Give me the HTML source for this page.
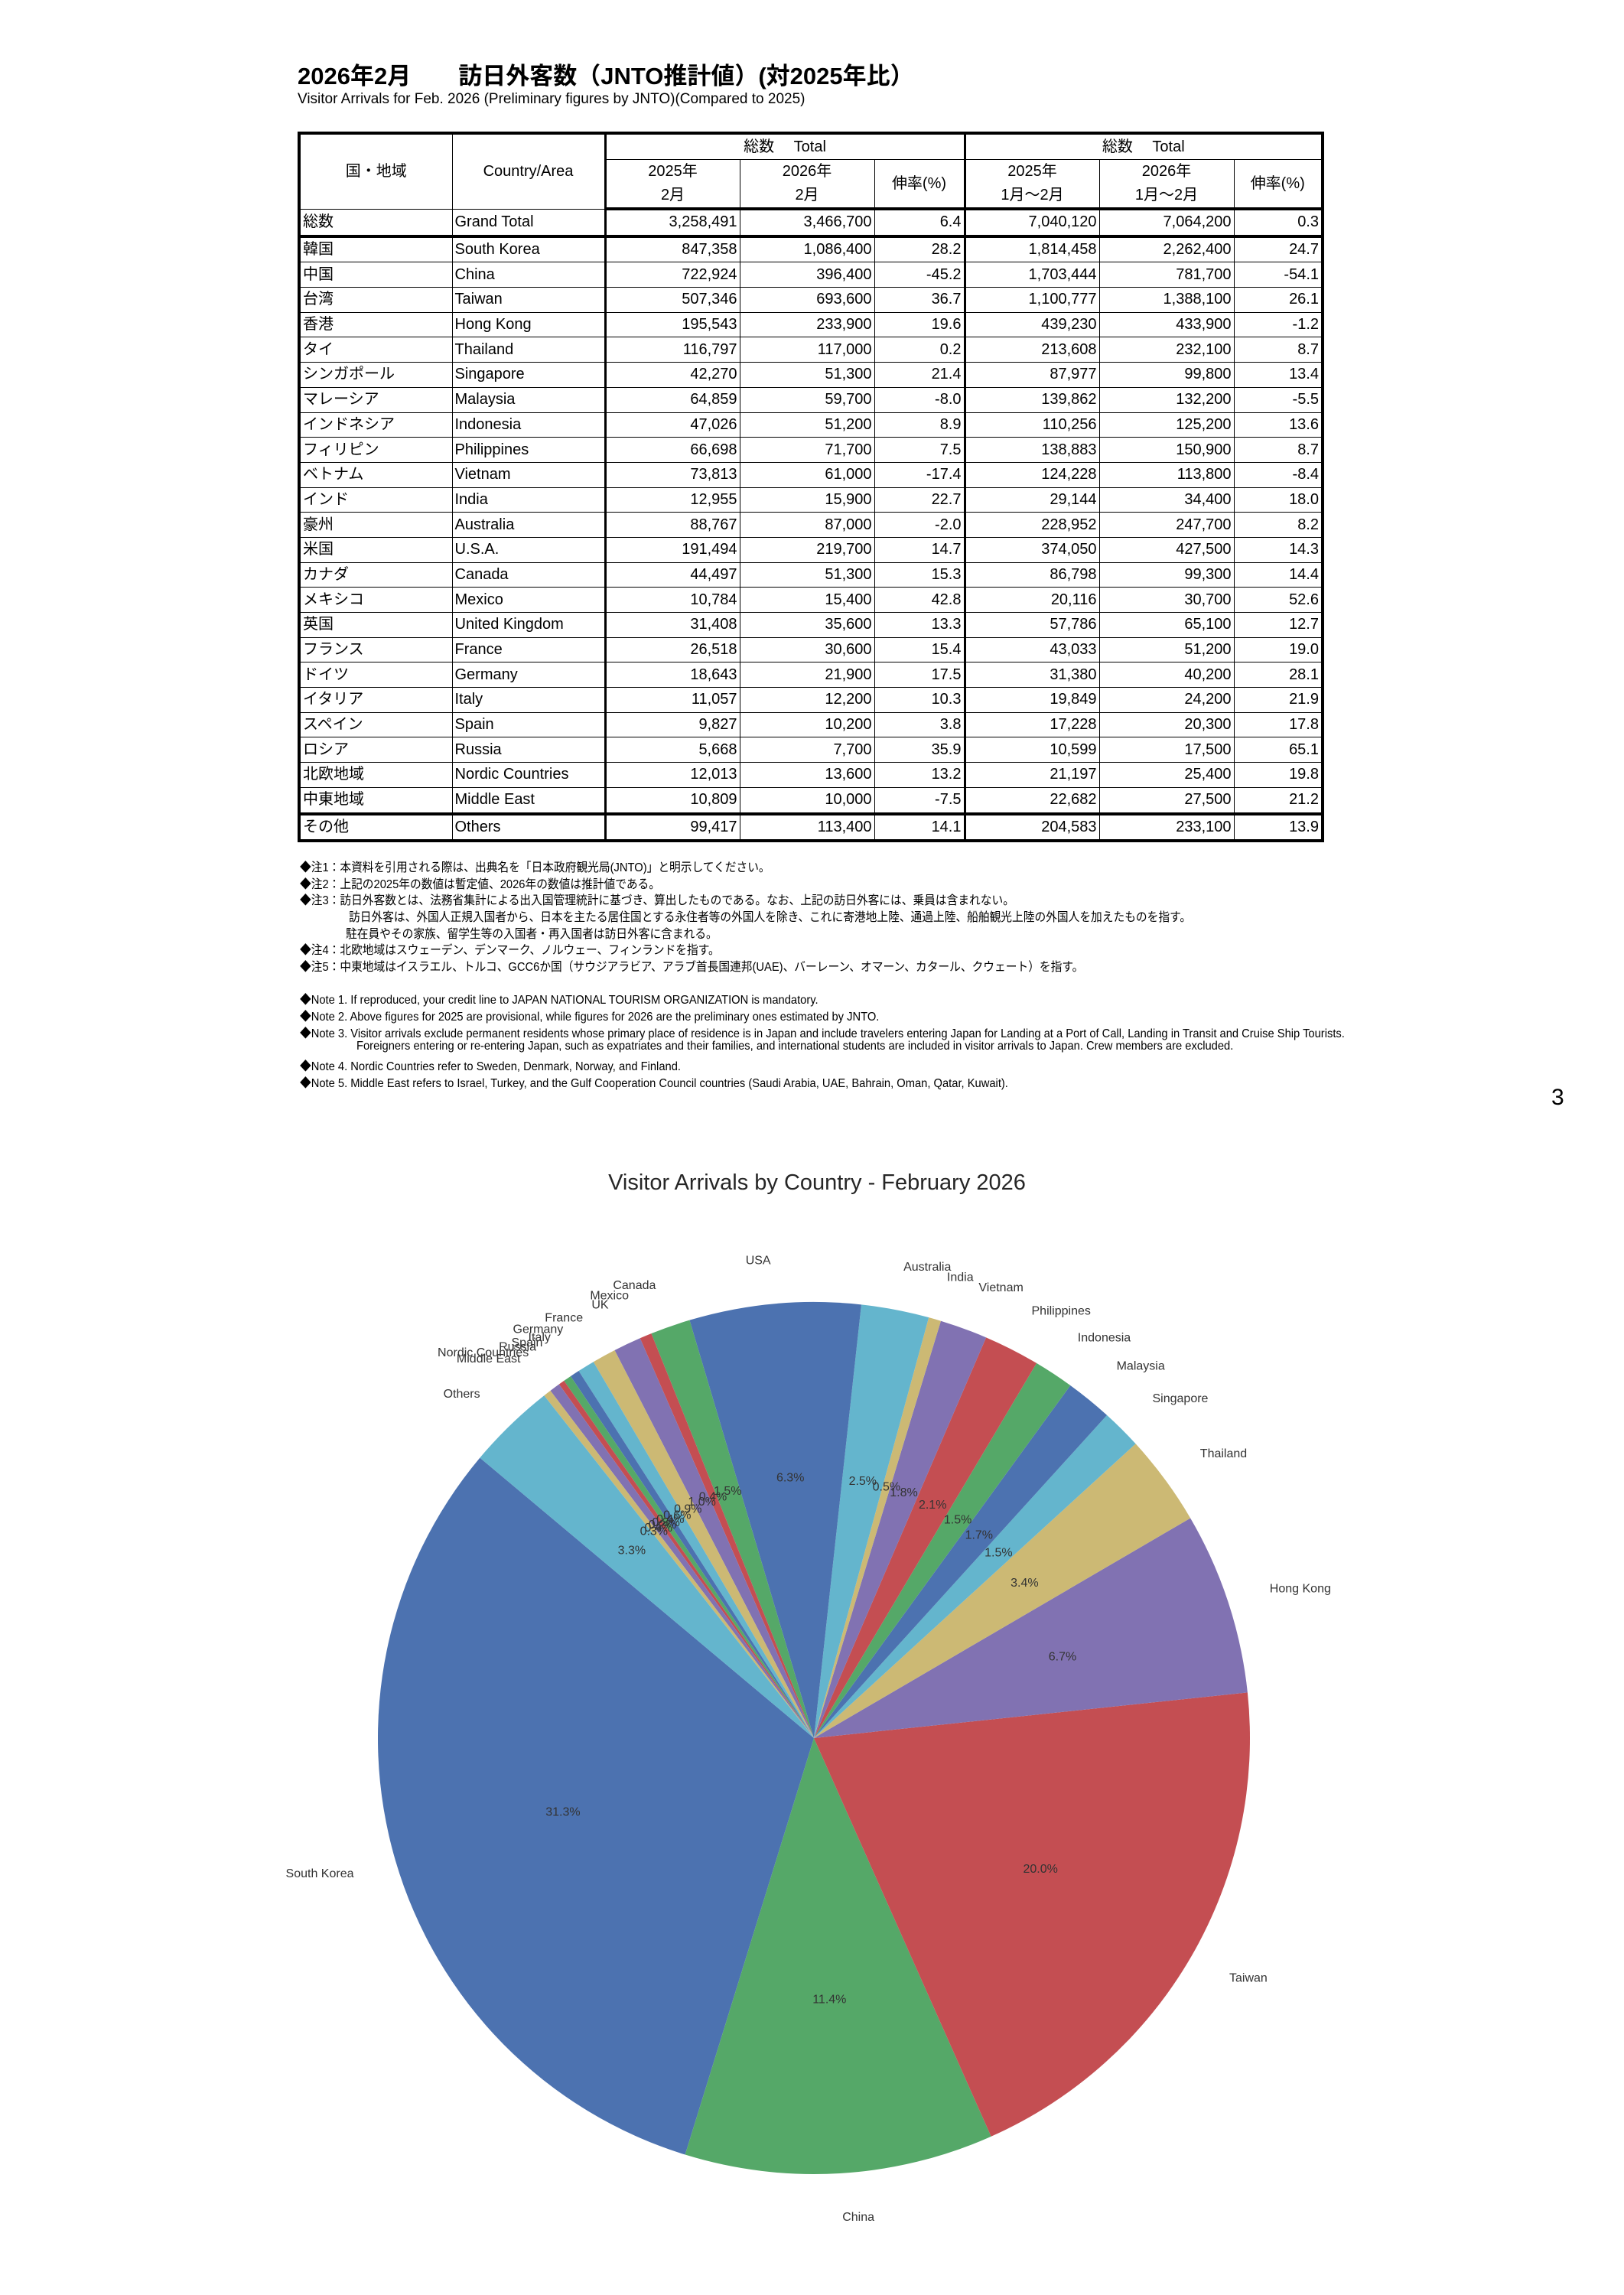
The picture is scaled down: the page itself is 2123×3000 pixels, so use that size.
<!DOCTYPE html>
<html><head><meta charset="utf-8">
<style>
body{margin:0;background:#fff;width:2123px;height:3000px;position:relative;overflow:hidden;font-family:"Liberation Sans","Noto Sans CJK JP",sans-serif;color:#000}
.t{position:absolute;white-space:nowrap}
table{position:absolute;left:389px;top:172px;border-collapse:collapse;table-layout:fixed;border:4px solid #000}
td{border:1px solid #000;font-size:20px;padding:0 3px;height:31px;line-height:31px;white-space:nowrap;overflow:hidden}
tr.d td{height:31.7px;line-height:31px}
td.n{text-align:right}
.h td{text-align:center}
.tk td{border-bottom:4px solid #000}
td.vb{border-left:3px solid #000}
.note{position:absolute;left:392px;font-size:16px;white-space:nowrap;transform:scaleX(0.92);transform-origin:left}
</style></head><body>
<div class="t" style="left:389px;top:74px;font-size:31px;font-weight:bold">2026年2月　　訪日外客数（JNTO推計値）(対2025年比）</div>
<div class="t" style="left:389px;top:119px;font-size:19px">Visitor Arrivals for Feb. 2026 (Preliminary figures by JNTO)(Compared to 2025)</div>
<table id="tb">
<colgroup><col style="width:200px"><col style="width:200px"><col style="width:176px"><col style="width:176px"><col style="width:118px"><col style="width:176px"><col style="width:176px"><col style="width:116px"></colgroup>
<tr class="h" style="height:34px"><td rowspan="2">国・地域</td><td rowspan="2">Country/Area</td><td colspan="3" class="vb" style="height:32px">総数　 Total</td><td colspan="3" class="vb">総数　 Total</td></tr>
<tr class="h tk"><td class="vb" style="height:62px;line-height:31px">2025年<br>2月</td><td style="line-height:31px">2026年<br>2月</td><td>伸率(%)</td><td class="vb" style="line-height:31px">2025年<br>1月～2月</td><td style="line-height:31px">2026年<br>1月～2月</td><td>伸率(%)</td></tr>
</table>
<div id="notes"></div>
<div class="t" style="left:2028px;top:1418px;font-size:30px">3</div>
<svg id="pie" style="position:absolute;left:0;top:0" width="2123" height="3000"></svg>
<script>
var rows=[["総数","Grand Total","3,258,491","3,466,700","6.4","7,040,120","7,064,200","0.3"],
["韓国","South Korea","847,358","1,086,400","28.2","1,814,458","2,262,400","24.7"],
["中国","China","722,924","396,400","-45.2","1,703,444","781,700","-54.1"],
["台湾","Taiwan","507,346","693,600","36.7","1,100,777","1,388,100","26.1"],
["香港","Hong Kong","195,543","233,900","19.6","439,230","433,900","-1.2"],
["タイ","Thailand","116,797","117,000","0.2","213,608","232,100","8.7"],
["シンガポール","Singapore","42,270","51,300","21.4","87,977","99,800","13.4"],
["マレーシア","Malaysia","64,859","59,700","-8.0","139,862","132,200","-5.5"],
["インドネシア","Indonesia","47,026","51,200","8.9","110,256","125,200","13.6"],
["フィリピン","Philippines","66,698","71,700","7.5","138,883","150,900","8.7"],
["ベトナム","Vietnam","73,813","61,000","-17.4","124,228","113,800","-8.4"],
["インド","India","12,955","15,900","22.7","29,144","34,400","18.0"],
["豪州","Australia","88,767","87,000","-2.0","228,952","247,700","8.2"],
["米国","U.S.A.","191,494","219,700","14.7","374,050","427,500","14.3"],
["カナダ","Canada","44,497","51,300","15.3","86,798","99,300","14.4"],
["メキシコ","Mexico","10,784","15,400","42.8","20,116","30,700","52.6"],
["英国","United Kingdom","31,408","35,600","13.3","57,786","65,100","12.7"],
["フランス","France","26,518","30,600","15.4","43,033","51,200","19.0"],
["ドイツ","Germany","18,643","21,900","17.5","31,380","40,200","28.1"],
["イタリア","Italy","11,057","12,200","10.3","19,849","24,200","21.9"],
["スペイン","Spain","9,827","10,200","3.8","17,228","20,300","17.8"],
["ロシア","Russia","5,668","7,700","35.9","10,599","17,500","65.1"],
["北欧地域","Nordic Countries","12,013","13,600","13.2","21,197","25,400","19.8"],
["中東地域","Middle East","10,809","10,000","-7.5","22,682","27,500","21.2"],
["その他","Others","99,417","113,400","14.1","204,583","233,100","13.9"]];
var tb=document.getElementById("tb"),h="";
rows.forEach(function(r,i){h+='<tr class="d'+((i==0||i==23)?' tk':'')+'">';
r.forEach(function(c,j){h+='<td class="'+(j>1?'n':'')+((j==2||j==5)?' vb':'')+'">'+c+'</td>';});h+='</tr>';});
tb.insertAdjacentHTML("beforeend",h);
var notes=[[1130,0,"◆注1：本資料を引用される際は、出典名を「日本政府観光局(JNTO)」と明示してください。"],
[1152,0,"◆注2：上記の2025年の数値は暫定値、2026年の数値は推計値である。"],
[1173,0,"◆注3：訪日外客数とは、法務省集計による出入国管理統計に基づき、算出したものである。なお、上記の訪日外客には、乗員は含まれない。"],
[1195,64,"訪日外客は、外国人正規入国者から、日本を主たる居住国とする永住者等の外国人を除き、これに寄港地上陸、通過上陸、船舶観光上陸の外国人を加えたものを指す。"],
[1217,60,"駐在員やその家族、留学生等の入国者・再入国者は訪日外客に含まれる。"],
[1238,0,"◆注4：北欧地域はスウェーデン、デンマーク、ノルウェー、フィンランドを指す。"],
[1260,0,"◆注5：中東地域はイスラエル、トルコ、GCC6か国（サウジアラビア、アラブ首長国連邦(UAE)、バーレーン、オマーン、カタール、クウェート）を指す。"],
[1303,0,"◆Note 1. If reproduced, your credit line to JAPAN NATIONAL TOURISM ORGANIZATION is mandatory."],
[1325,0,"◆Note 2. Above figures for 2025 are provisional, while figures for 2026 are the preliminary ones estimated by JNTO."],
[1347,0,"◆Note 3. Visitor arrivals exclude permanent residents whose primary place of residence is in Japan and include travelers entering Japan for Landing at a Port of Call, Landing in Transit and Cruise Ship Tourists."],
[1369,74,"Foreigners entering or re-entering Japan, such as expatriates and their families, and international students are included in visitor arrivals to Japan. Crew members are excluded."],
[1390,0,"◆Note 4. Nordic Countries refer to Sweden, Denmark, Norway, and Finland."],
[1412,0,"◆Note 5. Middle East refers to Israel, Turkey, and the Gulf Cooperation Council countries (Saudi Arabia, UAE, Bahrain, Oman, Qatar, Kuwait)."]];
var nh="";notes.forEach(function(n){nh+='<div class="note" style="top:'+(n[0]-10)+'px;left:'+(392+n[1])+'px">'+n[2]+'</div>';});
document.getElementById("notes").innerHTML=nh;
var names=["South Korea","China","Taiwan","Hong Kong","Thailand","Singapore","Malaysia","Indonesia","Philippines","Vietnam","India","Australia","USA","Canada","Mexico","UK","France","Germany","Italy","Spain","Russia","Nordic Countries","Middle East","Others"];
var vals=[1086400,396400,693600,233900,117000,51300,59700,51200,71700,61000,15900,87000,219700,51300,15400,35600,30600,21900,12200,10200,7700,13600,10000,113400];
var cols=["#4C72B0","#55A868","#C44E52","#8172B2","#CCB974","#64B5CD"];
var tot=vals.reduce(function(a,b){return a+b},0);
var cx=1064,cy=2272,R=570,a=140,s='';
s+='<text x="1068" y="1555" font-size="29" fill="#262626" text-anchor="middle" font-family="Liberation Sans,sans-serif">Visitor Arrivals by Country - February 2026</text>';
var txt='';
vals.forEach(function(v,i){var d=v/tot*360,a2=a+d,r1=a*Math.PI/180,r2=a2*Math.PI/180;
var x1=cx+R*Math.cos(r1),y1=cy-R*Math.sin(r1),x2=cx+R*Math.cos(r2),y2=cy-R*Math.sin(r2);
s+='<path d="M'+cx+','+cy+'L'+x1.toFixed(2)+','+y1.toFixed(2)+'A'+R+','+R+' 0 '+(d>180?1:0)+' 0 '+x2.toFixed(2)+','+y2.toFixed(2)+'Z" fill="'+cols[i%6]+'"/>';
var m=(a+d/2)*Math.PI/180,c=Math.cos(m),sn=Math.sin(m);
var lx=cx+1.1*R*c,ly=cy-1.1*R*sn;
txt+='<text x="'+lx.toFixed(1)+'" y="'+(ly+5).toFixed(1)+'" font-size="16" fill="#333" text-anchor="'+(c>0?'start':'end')+'">'+names[i]+'</text>';
txt+='<text x="'+(cx+0.6*R*c).toFixed(1)+'" y="'+(cy-0.6*R*sn+5).toFixed(1)+'" font-size="16" fill="#333" text-anchor="middle">'+(v/tot*100).toFixed(1)+'%</text>';
a=a2;});
document.getElementById("pie").innerHTML=s+'<g font-family="Liberation Sans,sans-serif">'+txt+'</g>';
</script>
</body></html>
